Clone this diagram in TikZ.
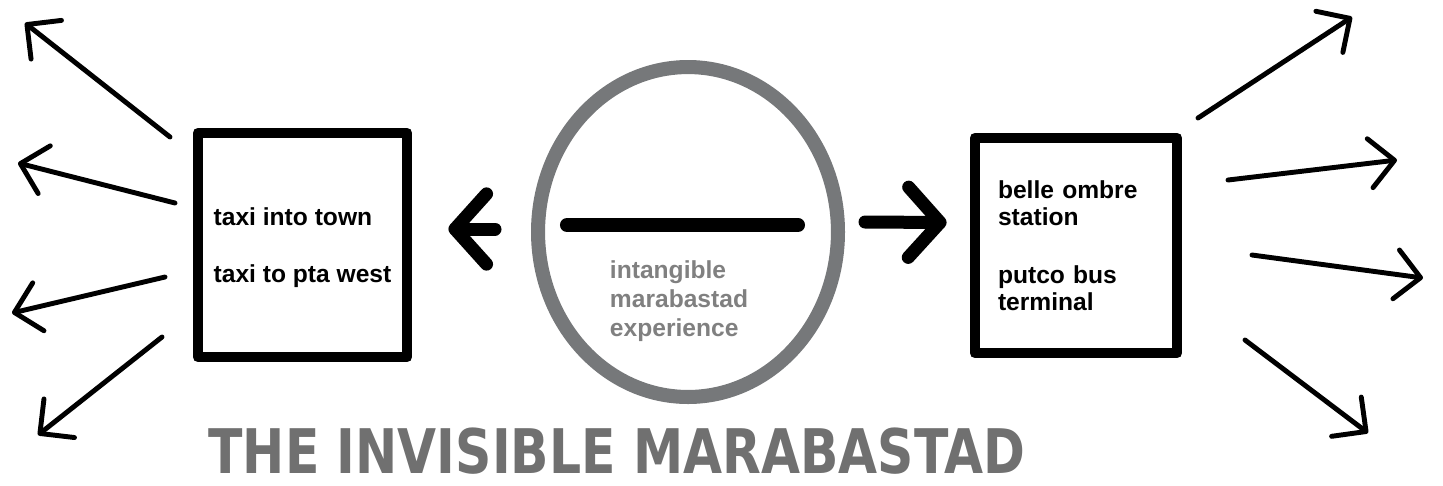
\documentclass[tikz,border=0pt]{standalone}
\usepackage{fontspec}
\setmainfont{Liberation Sans}
\newfontfamily\titlefont{DejaVu Sans}
\usetikzlibrary{arrows.meta,positioning,calc,shapes.geometric}
\definecolor{ringgray}{RGB}{118,120,122}
\definecolor{notegray}{RGB}{128,128,128}
\definecolor{titlegray}{RGB}{112,112,112}
\tikzset{
  stop/.style={rectangle,draw=black,line width=6.2pt,line join=round,
               font=\bfseries\fontsize{14}{15.3}\selectfont,align=left,inner sep=0pt},
  ring/.style={ellipse,draw=ringgray,line width=8pt,inner sep=0pt},
  note/.style={font=\bfseries\fontsize{14}{16.4}\selectfont,text=notegray,align=left},
  bar/.style={line width=8pt,line cap=round,black},
  big/.style={-{Straight Barb[length=18pt,width=40pt,round]},line width=7.4pt,line cap=round},
  fan/.style={-{Straight Barb[length=14pt,width=28pt,round]},line width=2.8pt,line cap=round},
  banner/.style={font=\titlefont\bfseries\fontsize{35}{38}\selectfont,text=titlegray,
                 xscale=0.82,inner sep=0pt},
}

\begin{document}
\begin{tikzpicture}[x=0.02cm,y=-0.02cm]
  \useasboundingbox (0,0) rectangle (1443,485);
  % the two places people leave from
  \node[stop,minimum width=4.18cm,minimum height=4.48cm,text depth=0pt] (taxi) at (302.5,245)
    {taxi into town\\[17pt]taxi to pta west};
  \node[stop,minimum height=4.3cm,text width=3.12cm,inner xsep=0.46cm] (stn) at (1076,245.5)
    {belle ombre\\station\\[18pt]putco bus\\terminal};
  % the experience in between
  \node[ring,minimum width=6cm,minimum height=6.6cm] (exp) at (688,232) {};
  \draw[bar] ([shift={(-121,-7)}]exp.center) -- ([shift={(110,-7)}]exp.center);
  \node[note] (intang) at ([shift={(-9,69)}]exp.center)
    {intangible\\marabastad\\experience};
  \draw[big] ([shift={(-36,-3)}]exp.west) -- ([shift={(36,-16)}]taxi.east);
  \draw[big] ([shift={(20,-10)}]exp.east) -- ([shift={(-23,-23)}]stn.west);
  % scattering out on both sides
  \foreach \tx/\ty/\hx/\hy [count=\n] in {170/137/25/23, 175/203/18/163,
                                         165/277/12/313, 162/337/38/435}{
    \coordinate (lfrom\n) at (\tx,\ty);
    \coordinate (lto\n) at (\hx,\hy);
    \draw[fan] (lfrom\n) -- (lto\n);
  }
  \foreach \tx/\ty/\hx/\hy [count=\n] in {1198/118/1352/17, 1228/180/1397/160,
                                         1252/255/1423/278, 1245/340/1368/433}{
    \coordinate (rfrom\n) at (\tx,\ty);
    \coordinate (rto\n) at (\hx,\hy);
    \draw[fan] (rfrom\n) -- (rto\n);
  }
  \node[banner] (title) at (617,451) {THE INVISIBLE MARABASTAD};
\end{tikzpicture}
\end{document}
